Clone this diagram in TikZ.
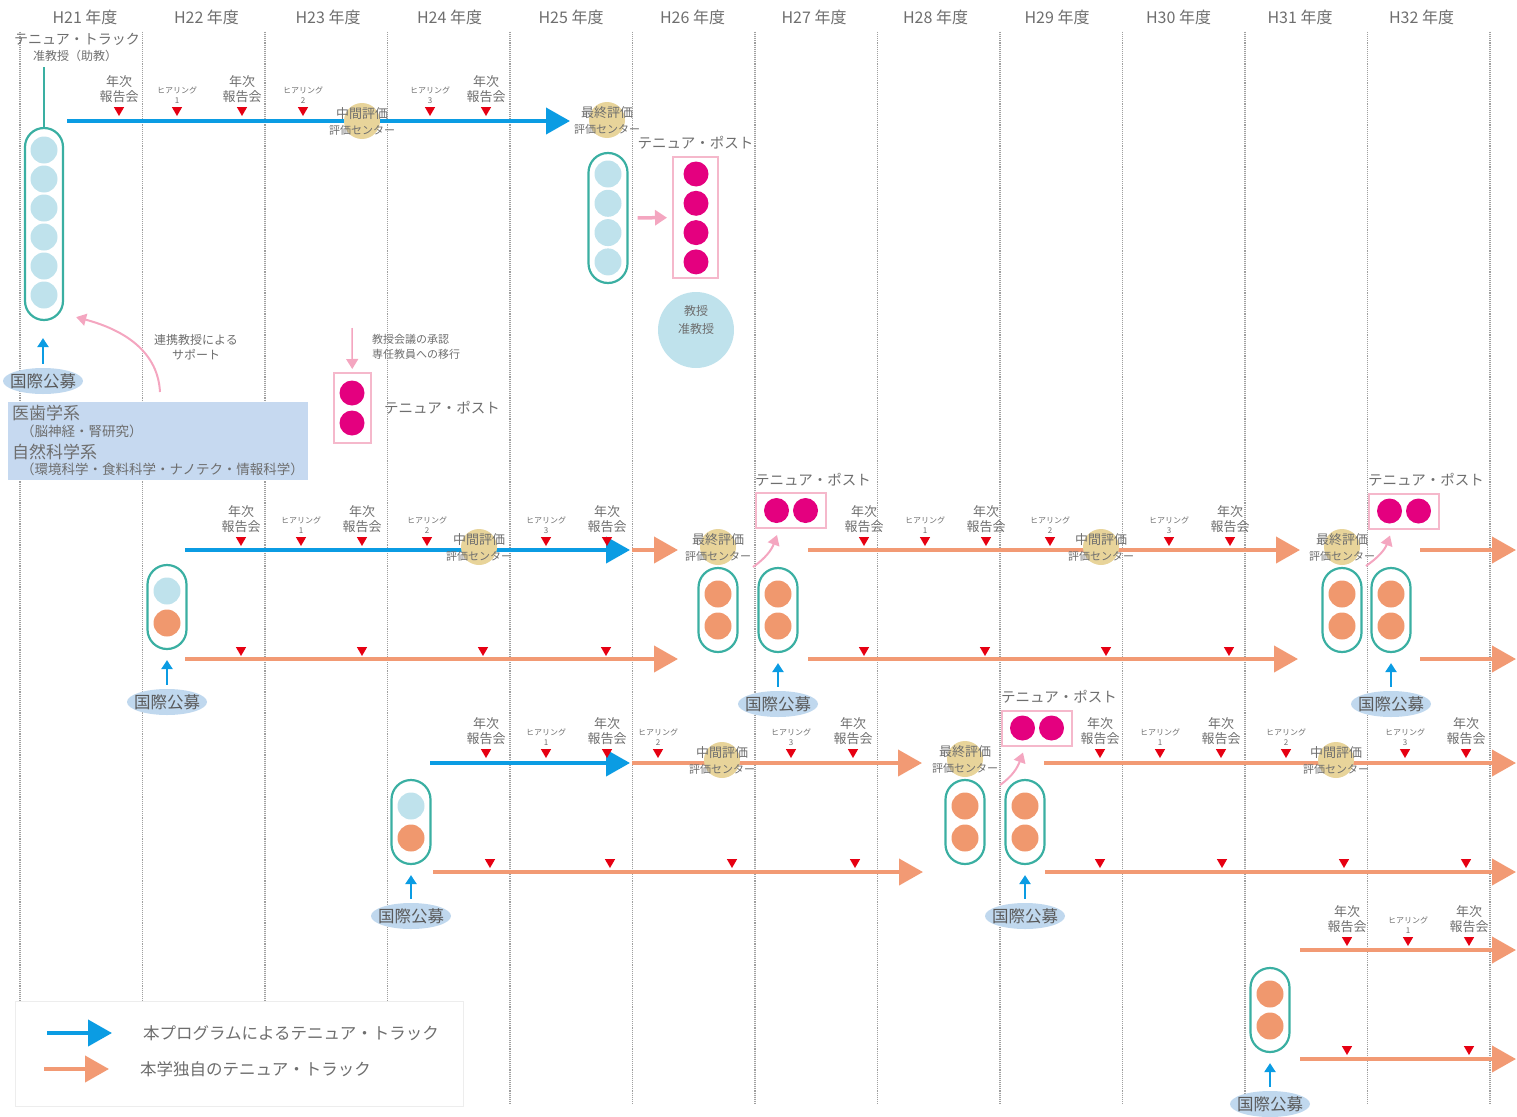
\documentclass[tikz,border=0pt]{standalone}
\usepackage{fontspec}
\setmainfont{Noto Sans CJK JP}
\usetikzlibrary{arrows.meta, positioning, shapes.geometric}

\definecolor{trackblue}{HTML}{0B9CE3}
\definecolor{trackorange}{HTML}{F29A74}
\definecolor{capteal}{HTML}{3AAFA2}
\definecolor{dotblue}{HTML}{BFE2EC}
\definecolor{dotorange}{HTML}{F0986E}
\definecolor{postmag}{HTML}{E4007F}
\definecolor{postpink}{HTML}{F5B8CB}
\definecolor{pinkarrow}{HTML}{F4A6C0}
\definecolor{evaltan}{HTML}{E8D49A}
\definecolor{markred}{HTML}{E60012}
\definecolor{boxblue}{HTML}{C6D9F0}
\definecolor{recruitblue}{HTML}{C0D8EE}
\definecolor{txtgray}{HTML}{6E6E6E}

\begin{document}
\begin{tikzpicture}[
        x = 1pt, y = -1pt,
        every node/.style = {inner sep = 0pt, text = txtgray},
        yearlabel/.style = {font = \fontsize{16}{16}\selectfont},
        gridline/.style = {draw = gray!75, densely dotted, line width = 1.1pt},
        bluetrack/.style = {draw = trackblue, line width = 4pt, -{Triangle[length = 24pt, width = 26pt]}},
        orangetrack/.style = {draw = trackorange, line width = 4pt, -{Triangle[length = 24pt, width = 26pt]}},
        redmark/.style = {regular polygon, regular polygon sides = 3, shape border rotate = 180,
                          fill = markred, minimum size = 12pt},
        report/.style = {align = center, font = \fontsize{13}{15}\selectfont},
        hearing/.style = {align = center, font = \fontsize{8}{10}\selectfont},
        evalcircle/.style = {circle, fill = evaltan, minimum size = 36pt},
        evaltop/.style = {font = \fontsize{13}{13}\selectfont},
        evalbottom/.style = {font = \fontsize{11}{11}\selectfont},
        capsule/.style = {draw = capteal, line width = 2.2pt, rounded corners = 19.5pt,
                          minimum width = 39pt, minimum height = 84pt},
        ball/.style = {circle, minimum size = 27pt},
        postbox/.style = {draw = postpink, line width = 2pt},
        posttext/.style = {font = \fontsize{14.5}{15}\selectfont},
        recruit/.style = {ellipse, fill = recruitblue, minimum width = 80pt, minimum height = 26pt,
                          label = {[text = black!65, font = \fontsize{16.5}{17}\selectfont]center:国際公募}},
        upblue/.style = {draw = trackblue, line width = 2.4pt, -{Triangle[length = 9pt, width = 11pt]}},
        pinkline/.style = {draw = pinkarrow, line width = 2pt, -{Triangle[length = 10pt, width = 12pt]}},
        notetext/.style = {font = \fontsize{12}{15}\selectfont}
    ]

      \useasboundingbox (0,0) rectangle (1517,1116);

      % years and grid
      \foreach \i in {0,...,12}
            \draw[gridline] ({20+122.5*\i},32) -- ({20+122.5*\i},1105);
      \foreach \y [count = \i from 0] in {21,...,32}
            \node[yearlabel] (yr\y) at ({85+121.5*\i},17) {H\y~年度};

      % legend and department box
      \node[draw = black!7, fill = white, minimum width = 448pt, minimum height = 105pt,
            anchor = north west] (legend) at (15,1001) {};
      \node[fill = boxblue, minimum width = 300pt, minimum height = 78pt,
            anchor = north west] (dept) at (8,402) {};
      \node[anchor = west, font = \fontsize{17}{17}\selectfont] (dept1) at (12,413) {医歯学系};
      \node[anchor = west, font = \fontsize{13.5}{14}\selectfont] (dept1s) at (21,431) {（脳神経・腎研究）};
      \node[anchor = west, font = \fontsize{17}{17}\selectfont] (dept2) at (12,452) {自然科学系};
      \node[anchor = west, font = \fontsize{13.5}{14}\selectfont] (dept2s) at (21,469) {（環境科学・食料科学・ナノテク・情報科学）};

      % tracks
      \coordinate (t1a) at (67,121);   \coordinate (t1b) at (570,121);
      \coordinate (t2a) at (185,550);  \coordinate (t2b) at (630,550);
      \coordinate (t3a) at (430,763);  \coordinate (t3b) at (630,763);
      \draw[bluetrack] (t1a) -- (t1b);
      \draw[bluetrack] (t2a) -- (t2b);
      \draw[bluetrack] (t3a) -- (t3b);
      \foreach \a/\b/\y [count = \i] in {632/678/550, 185/678/659, 808/1300/550, 808/1298/659,
                                         1420/1516/550, 1420/1516/659, 632/922/763, 433/923/872,
                                         1044/1516/763, 1045/1516/872, 1300/1516/950, 1300/1516/1059}
      {
            \coordinate (os\i) at (\a,\y);
            \coordinate (oe\i) at (\b,\y);
            \draw[orangetrack] (os\i) -- (oe\i);
      }

      % reports, hearings and plain marks
      \foreach \x/\y [count = \i] in {119/110, 242/110, 486/110, 241/540, 362/540, 607/540,
                                      864/540, 986/540, 1230/540, 486/752, 607/752, 853/752,
                                      1100/752, 1221/752, 1466/752, 1347/940, 1469/940}
      {
            \node[redmark] (rep\i) at (\x,\y) {};
            \node[report, above = 4pt of rep\i] (rep\i-t) {年次\\報告会};
      }
      \foreach \x/\y/\k [count = \i] in {177/110/1, 303/110/2, 430/110/3, 301/540/1, 427/540/2,
                                         546/540/3, 925/540/1, 1050/540/2, 1169/540/3, 546/752/1,
                                         658/752/2, 791/752/3, 1160/752/1, 1286/752/2, 1405/752/3,
                                         1408/940/1}
      {
            \node[redmark] (hr\i) at (\x,\y) {};
            \node[hearing, above = 3pt of hr\i] (hr\i-t) {ヒアリング\\\k};
      }
      \foreach \x/\y [count = \i] in {241/650, 362/650, 483/650, 606/650, 864/650, 985/650,
                                      1106/650, 1229/650, 490/862, 610/862, 732/862, 855/862,
                                      1100/862, 1222/862, 1344/862, 1466/862, 1347/1049, 1469/1049}
            \node[redmark] (pm\i) at (\x,\y) {};

      % evaluations
      \foreach \x/\y/\t [count = \i] in {362/121/中間評価, 607/120/最終評価, 479/547/中間評価,
                                         718/547/最終評価, 1101/547/中間評価, 1342/547/最終評価,
                                         722/760/中間評価, 965/759/最終評価, 1336/760/中間評価}
      {
            \node[evalcircle] (ev\i) at (\x,\y) {};
            \node[evaltop] (ev\i-t) at ([yshift = 7pt]ev\i.center) {\t};
            \node[evalbottom] (ev\i-b) at ([yshift = -9pt]ev\i.center) {評価センター};
      }

      % first tenure track
      \node[font = \fontsize{14}{14}\selectfont] (tt1) at (77,39) {テニュア・トラック};
      \node[font = \fontsize{12}{13}\selectfont] (tt2) at (75,56) {准教授（助教）};
      \node[capsule, minimum width = 38pt, minimum height = 192pt, rounded corners = 19pt] (cap1) at (44,224) {};
      \foreach \k in {0,...,5}
            \node[ball, fill = dotblue] (cap1-\k) at (44,{150+29*\k}) {};
      \draw[draw = capteal, line width = 2.2pt, shorten >= 5pt] (cap1.north) -- (cap1.north |- tt2.south);

      \node[capsule, minimum height = 130pt] (cap2) at (608,218) {};
      \foreach \k in {0,...,3}
            \node[ball, fill = dotblue] (cap2-\k) at (608,{174+29.3*\k}) {};

      \node[postbox, minimum width = 45pt, minimum height = 121pt] (post1) at (695.5,217.5) {};
      \foreach \k in {0,...,3}
            \node[ball, fill = postmag, minimum size = 25pt] (post1-\k) at (696,{174+29.3*\k}) {};
      \node[posttext, above = 7pt of post1] (post1-t) {テニュア・ポスト};
      \draw[pinkline, line width = 3.5pt, -{Triangle[length = 12pt, width = 15pt]},
            shorten <= 9pt, shorten >= 5pt] (cap2) -- (post1);

      \node[circle, fill = dotblue, minimum size = 76pt] (prof) at (696,330) {};
      \node[font = \fontsize{12}{12}\selectfont] (prof1) at (696,311) {教授};
      \node[font = \fontsize{12}{12}\selectfont] (prof2) at (696,329) {准教授};

      % recruitment and support
      \node[recruit] (rec0) at (43,381) {};
      \draw[upblue, shorten <= 4pt, shorten >= 17pt] (rec0) -- (cap1.south -| rec0);
      \coordinate (sup) at (160,392);
      \draw[pinkline] (sup) to[out = 93, in = -15] ([xshift = 12pt, yshift = 4pt]cap1.south east);
      \node[notetext, align = center] (sup-t) at (196,347) {連携教授による\\サポート};

      \node[postbox, minimum width = 37pt, minimum height = 70pt] (post2) at (352.5,408) {};
      \node[ball, fill = postmag, minimum size = 25pt] (post2-1) at (352,393) {};
      \node[ball, fill = postmag, minimum size = 25pt] (post2-2) at (352,423) {};
      \node[posttext, right = 12pt of post2] (post2-t) {テニュア・ポスト};
      \coordinate (mig) at (352,328);
      \draw[pinkline, line width = 1.5pt, shorten >= 3pt] (mig) -- (post2);
      \node[notetext, font = \fontsize{11}{15}\selectfont, align = left, anchor = west] (mig-t) at (372,347)
            {教授会議の承認\\専任教員への移行};

      % later capsules
      \foreach \n/\x/\y/\c in {A/167/607/dotblue, B/718/610/dotorange, C/778/610/dotorange,
                               D/1342/610/dotorange, E/1391/610/dotorange, F/411/822/dotblue,
                               G/965/822/dotorange, H/1025/822/dotorange, I/1270/1010/dotorange}
      {
            \node[capsule] (cap\n) at (\x,\y) {};
            \node[ball, fill = \c] (cap\n-1) at (\x,{\y-16}) {};
            \node[ball, fill = dotorange] (cap\n-2) at (\x,{\y+16}) {};
      }
      \foreach \n/\x/\y in {A/167/702, C/778/704, E/1391/704, F/411/916, H/1025/916, I/1270/1104}
      {
            \node[recruit] (rec\n) at (\x,\y) {};
            \draw[upblue, shorten <= 4pt, shorten >= 10pt] (rec\n) -- (cap\n);
      }

      % tenure posts
      \foreach \n/\x/\y/\sx/\sy in {3/791/510.5/753/567, 4/1404/511/1366/566, 5/1037/728/1000/785}
      {
            \node[postbox, minimum width = 70pt, minimum height = 35pt] (post\n) at (\x,\y) {};
            \node[ball, fill = postmag, minimum size = 25pt] (post\n-1) at ({\x-14.5},\y) {};
            \node[ball, fill = postmag, minimum size = 25pt] (post\n-2) at ({\x+14.5},\y) {};
            \node[posttext, anchor = south west] (post\n-t) at ([yshift = 6pt]post\n.north west) {テニュア・ポスト};
            \coordinate (up\n) at (\sx,\sy);
            \draw[pinkline] (up\n) to[out = 35, in = -110] ([xshift = -14pt, yshift = -6pt]post\n.south);
      }

      % legend
      \coordinate (lg1a) at (47,1033);  \coordinate (lg1b) at (112,1033);
      \coordinate (lg2a) at (44,1069);  \coordinate (lg2b) at (109,1069);
      \draw[bluetrack] (lg1a) -- (lg1b);
      \draw[orangetrack] (lg2a) -- (lg2b);
      \node[anchor = west, font = \fontsize{16.5}{17}\selectfont] (lg1-t) at (143,1033) {本プログラムによるテニュア・トラック};
      \node[anchor = west, font = \fontsize{16.5}{17}\selectfont] (lg2-t) at (140,1069) {本学独自のテニュア・トラック};

\end{tikzpicture}
\end{document}
